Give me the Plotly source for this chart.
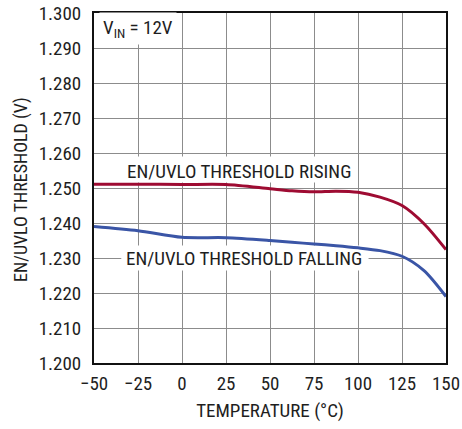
import plotly.graph_objects as go

temps = [-50, -25, 0, 25, 50, 62.5, 75, 87.5, 100, 112.5, 125, 137.5, 150]
rising = [1.2511, 1.2511, 1.2510, 1.2510, 1.2498, 1.2492, 1.2489, 1.2491, 1.2488, 1.2474, 1.2450, 1.2398, 1.2324]
falling = [1.2390, 1.2378, 1.2359, 1.2358, 1.2350, 1.2345, 1.2340, 1.2335, 1.2329, 1.2321, 1.2305, 1.2264, 1.2190]

x_ticks = [-50, -25, 0, 25, 50, 75, 100, 125, 150]
y_ticks = [1.20, 1.21, 1.22, 1.23, 1.24, 1.25, 1.26, 1.27, 1.28, 1.29, 1.30]
y_tick_labels = ["1.200", "1.210", "1.220", "1.230", "1.240", "1.250", "1.260", "1.270", "1.280", "1.290", "1.300"]

FONT = "Roboto Condensed, Liberation Sans Narrow, Arial Narrow, Roboto, sans-serif"
TXT = "#1e1e1e"
RED = "#9e0b32"
BLUE = "#3a55a6"

fig = go.Figure()
fig.add_trace(go.Scatter(x=temps, y=rising, mode="lines",
                         line=dict(color=RED, width=3, shape="spline", smoothing=0.8)))
fig.add_trace(go.Scatter(x=temps, y=falling, mode="lines",
                         line=dict(color=BLUE, width=3, shape="spline", smoothing=0.8)))

axis_common = dict(showline=True, linecolor="#111111", linewidth=2, mirror=True,
                   showgrid=True, gridcolor="#8c8c8c", gridwidth=1.4, zeroline=False,
                   ticks="", automargin=False, tickfont=dict(family=FONT, size=19, color=TXT))

fig.update_xaxes(range=[-50, 150], tickvals=x_ticks, ticklabelstandoff=2,
                 title=dict(text="TEMPERATURE (°C)", font=dict(family=FONT, size=19, color=TXT), standoff=10),
                 **axis_common)
fig.update_yaxes(range=[1.2, 1.3], tickvals=y_ticks, ticktext=y_tick_labels, ticklabelstandoff=7,
                 **axis_common)

# white label boxes between gridlines and curves
fig.add_shape(type="rect", xref="x", yref="y", x0=-34.5, x1=99.5, y0=1.2516, y1=1.2590,
              fillcolor="white", line=dict(width=0), layer="between")
fig.add_shape(type="rect", xref="x", yref="y", x0=-34.5, x1=106, y0=1.2264, y1=1.2336,
              fillcolor="white", line=dict(width=0), layer="between")

fig.add_annotation(text="EN/UVLO THRESHOLD (V)", textangle=-90, xref="paper", yref="paper",
                   x=-0.207, y=0.495, xanchor="center", yanchor="middle", showarrow=False,
                   font=dict(family=FONT, size=18, color=TXT))
fig.add_annotation(text="V<sub>IN</sub> = 12V", xref="x", yref="y", x=-47, y=1.2955,
                   xanchor="left", yanchor="middle", showarrow=False, bgcolor="white",
                   font=dict(family=FONT, size=19, color=TXT), borderpad=3)
fig.add_annotation(text="EN/UVLO THRESHOLD RISING", xref="x", yref="y", x=32.5, y=1.2548,
                   xanchor="center", yanchor="middle", showarrow=False,
                   font=dict(family=FONT, size=19, color=TXT))
fig.add_annotation(text="EN/UVLO THRESHOLD FALLING", xref="x", yref="y", x=35.5, y=1.2299,
                   xanchor="center", yanchor="middle", showarrow=False,
                   font=dict(family=FONT, size=19, color=TXT))

fig.update_layout(width=462, height=429, showlegend=False,
                  margin=dict(l=94, r=16, t=13, b=66),
                  plot_bgcolor="white", paper_bgcolor="white")

# remove the default page margin so the figure sits at the window's top-left corner
fig.write_html("out.html", config={"displayModeBar": False},
               post_script="document.body.style.margin='0';document.body.style.overflow='hidden';")
